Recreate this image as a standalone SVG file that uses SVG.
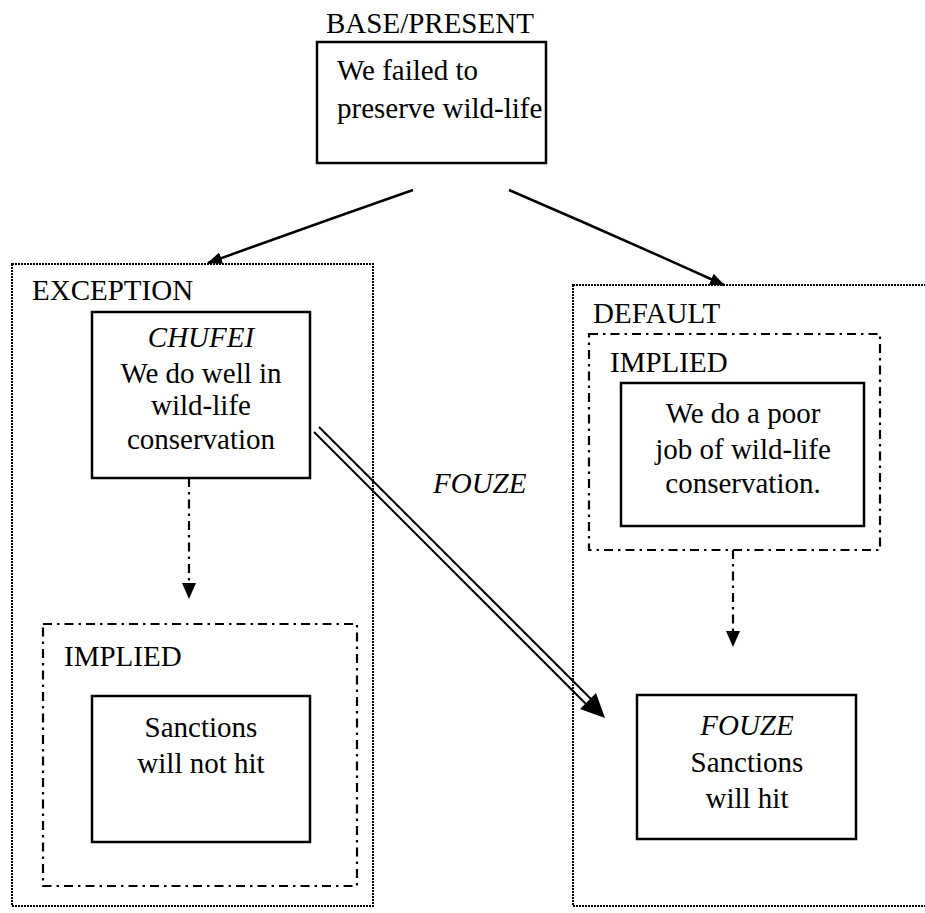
<svg xmlns="http://www.w3.org/2000/svg" width="925" height="913" viewBox="0 0 925 913" font-family="'Times New Roman', 'Liberation Serif', serif">
  <defs>
    <style>
      text { font-family: "Times New Roman", "Liberation Serif", serif; font-size: 29px; fill: #000; }
      .it { font-style: italic; }
      .mid { text-anchor: middle; }
      .box { fill: #fff; stroke: #000; stroke-width: 2.5; }
      .frame { fill: none; stroke: #000; stroke-width: 2; stroke-dasharray: 2 1; }
      .implied { fill: none; stroke: #000; stroke-width: 2.2; stroke-dasharray: 9 5 2.5 5; }
      .solid { fill: none; stroke: #000; stroke-width: 2.5; }
      .dashdot { fill: none; stroke: #000; stroke-width: 2.2; stroke-dasharray: 9 5 2.5 5; }
      .dbl { fill: none; stroke: #000; stroke-width: 2; }
    </style>
    <marker id="head" markerWidth="15" markerHeight="12" refX="14" refY="6" orient="auto" markerUnits="userSpaceOnUse" viewBox="0 0 15 12">
      <path d="M0,0 L15,6 L0,12 Z" fill="#000"/>
    </marker>
  </defs>

  <!-- outer frames -->
  <g id="exception">
    <rect class="frame" x="12" y="264" width="361" height="642"/>
    <text x="32" y="300">EXCEPTION</text>
  </g>
  <g id="default">
    <rect class="frame" x="573" y="285" width="370" height="621"/>
    <text x="593" y="323">DEFAULT</text>
  </g>

  <!-- base statement -->
  <g id="base">
    <text x="326" y="33">BASE/PRESENT</text>
    <rect class="box" x="317" y="42" width="229" height="121"/>
    <text x="337" y="80">We failed to</text>
    <text x="337" y="118">preserve wild-life</text>
  </g>

  <g id="chufei">
    <rect class="box" x="92" y="312" width="218" height="166"/>
    <text class="mid it" x="201" y="347">CHUFEI</text>
    <text class="mid" x="201" y="383">We do well in</text>
    <text class="mid" x="201" y="415">wild-life</text>
    <text class="mid" x="201" y="449">conservation</text>
  </g>

  <g id="implied-exception">
    <rect class="implied" x="43" y="624" width="314" height="262"/>
    <text x="64" y="666">IMPLIED</text>
  </g>

  <g id="not-hit">
    <rect class="box" x="92" y="696" width="218" height="146"/>
    <text class="mid" x="201" y="737">Sanctions</text>
    <text class="mid" x="201" y="773">will not hit</text>
  </g>

  <g id="implied-default">
    <rect class="implied" x="589" y="334" width="291" height="216"/>
    <text x="610" y="372">IMPLIED</text>
  </g>

  <g id="poor-job">
    <rect class="box" x="621" y="383" width="243" height="143"/>
    <text class="mid" x="743" y="423">We do a poor</text>
    <text class="mid" x="743" y="459">job of wild-life</text>
    <text class="mid" x="743" y="493">conservation.</text>
  </g>

  <g id="hit">
    <rect class="box" x="637" y="695" width="219" height="144"/>
    <text class="mid it" x="747" y="735">FOUZE</text>
    <text class="mid" x="747" y="772">Sanctions</text>
    <text class="mid" x="747" y="808">will hit</text>
  </g>

  <text class="it" x="433" y="493">FOUZE</text>

  <!-- connectors -->
  <g id="connectors">
    <path class="solid" d="M413,190 Q310,226 208,263" marker-end="url(#head)"/>
    <path class="solid" d="M509,190 Q616,236 724,285" marker-end="url(#head)"/>

    <line class="dashdot" x1="189" y1="478" x2="189" y2="584"/>
    <path d="M182,583 L196,583 L189,599 Z" fill="#000"/>
    <line class="dashdot" x1="733" y1="550" x2="733" y2="632"/>
    <path d="M726,631 L740,631 L733,647 Z" fill="#000"/>

    <!-- double-stroke arrow -->
    <line class="dbl" x1="319" y1="427" x2="594" y2="702"/>
    <line class="dbl" x1="314" y1="432" x2="589" y2="707"/>
    <path d="M605,718 L580,709 L596,693 Z" fill="#000"/>
  </g>
</svg>
